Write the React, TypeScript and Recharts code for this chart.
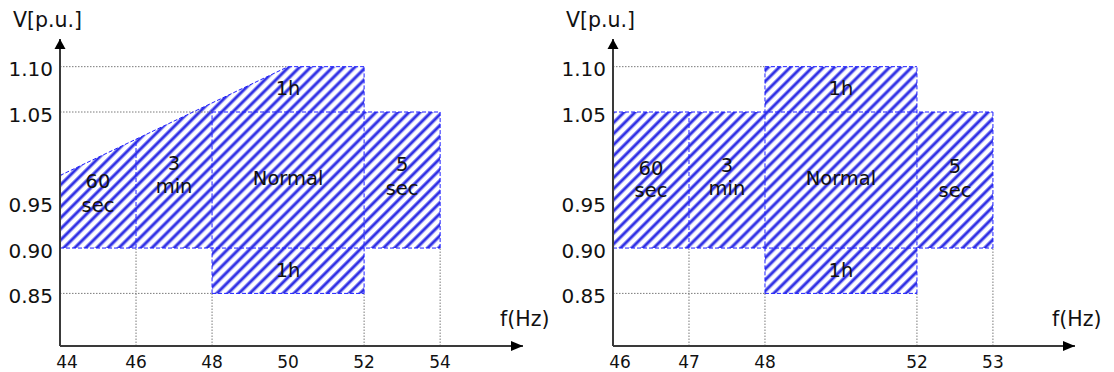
import React from 'react';
import { ComposedChart, Area, XAxis, YAxis, ReferenceLine, ReferenceDot } from 'recharts';

const FONT = '"DejaVu Sans", "Liberation Sans", sans-serif';

// Shared voltage axis
const V_DOMAIN: [number, number] = [0.792, 1.1305];
const vTicks = [0.85, 0.9, 0.95, 1.05, 1.1];

type Region = { name: string; f: number[]; lo: number[]; hi: number[] };
type Seg = [number, number, number, number]; // f1, v1, f2, v2
type Lbl = { f: number; v: number; t: string };

// ---------- Left chart (linear frequency axis) ----------
const leftTicks = [44, 46, 48, 50, 52, 54];
const leftFMax = 56.18;
const leftRegions: Region[] = [
  { name: 'sec60', f: [44, 46], lo: [0.9, 0.9], hi: [0.98, 1.02] },
  { name: 'min3', f: [46, 48], lo: [0.9, 0.9], hi: [1.02, 1.06] },
  { name: 'normal', f: [48, 52], lo: [0.9, 0.9], hi: [1.05, 1.05] },
  { name: 'h1top', f: [48, 50, 52], lo: [1.05, 1.05, 1.05], hi: [1.06, 1.1, 1.1] },
  { name: 'h1bot', f: [48, 52], lo: [0.85, 0.85], hi: [0.9, 0.9] },
  { name: 'sec5', f: [52, 54], lo: [0.9, 0.9], hi: [1.05, 1.05] },
];
const leftBorders: Seg[] = [
  [44, 0.98, 50, 1.1],
  [50, 1.1, 52, 1.1],
  [52, 0.85, 52, 1.1],
  [48, 1.05, 54, 1.05],
  [54, 0.9, 54, 1.05],
  [44, 0.9, 54, 0.9],
  [46, 0.9, 46, 1.02],
  [48, 0.85, 48, 1.05],
  [48, 0.85, 52, 0.85],
];
const leftGrid: Seg[] = [
  [44, 1.1, 50, 1.1],
  [44, 1.05, 48, 1.05],
  [44, 0.85, 48, 0.85],
  [46, V_DOMAIN[0], 46, 0.9],
  [48, V_DOMAIN[0], 48, 0.85],
  [52, V_DOMAIN[0], 52, 0.85],
  [54, V_DOMAIN[0], 54, 0.9],
];
const leftLabels: Lbl[] = [
  { f: 45, v: 0.966, t: '60' },
  { f: 45, v: 0.94, t: 'sec' },
  { f: 47, v: 0.986, t: '3' },
  { f: 47, v: 0.961, t: 'min' },
  { f: 50, v: 0.969, t: 'Normal' },
  { f: 50, v: 1.069, t: '1h' },
  { f: 50, v: 0.868, t: '1h' },
  { f: 53, v: 0.985, t: '5' },
  { f: 53, v: 0.959, t: 'sec' },
];

// ---------- Right chart (non-uniform frequency axis) ----------
const rightTicks = [46, 47, 48, 52, 53];
const rightTickSlots = [0, 1, 2, 4, 5];
const rightSlotMax = 6.08;
const rightRegions: Region[] = [
  { name: 'sec60', f: [46, 47], lo: [0.9, 0.9], hi: [1.05, 1.05] },
  { name: 'min3', f: [47, 48], lo: [0.9, 0.9], hi: [1.05, 1.05] },
  { name: 'normal', f: [48, 52], lo: [0.9, 0.9], hi: [1.05, 1.05] },
  { name: 'h1top', f: [48, 52], lo: [1.05, 1.05], hi: [1.1, 1.1] },
  { name: 'h1bot', f: [48, 52], lo: [0.85, 0.85], hi: [0.9, 0.9] },
  { name: 'sec5', f: [52, 53], lo: [0.9, 0.9], hi: [1.05, 1.05] },
];
const rightBorders: Seg[] = [
  [46, 1.05, 53, 1.05],
  [46, 0.9, 53, 0.9],
  [48, 1.1, 52, 1.1],
  [48, 0.85, 52, 0.85],
  [47, 0.9, 47, 1.05],
  [48, 0.85, 48, 1.1],
  [52, 0.85, 52, 1.1],
  [53, 0.9, 53, 1.05],
];
const rightGrid: Seg[] = [
  [46, 1.1, 48, 1.1],
  [46, 0.85, 48, 0.85],
  [47, V_DOMAIN[0], 47, 0.9],
  [48, V_DOMAIN[0], 48, 0.85],
  [52, V_DOMAIN[0], 52, 0.85],
  [53, V_DOMAIN[0], 53, 0.9],
];
const rightLabels: Lbl[] = [
  { f: 46.5, v: 0.981, t: '60' },
  { f: 46.5, v: 0.956, t: 'sec' },
  { f: 47.5, v: 0.984, t: '3' },
  { f: 47.5, v: 0.958, t: 'min' },
  { f: 50, v: 0.969, t: 'Normal' },
  { f: 50, v: 1.069, t: '1h' },
  { f: 50, v: 0.868, t: '1h' },
  { f: 52.5, v: 0.983, t: '5' },
  { f: 52.5, v: 0.956, t: 'sec' },
];

const identity = (f: number) => f;
const rightToX = (f: number) => {
  for (let i = 0; i < rightTicks.length - 1; i++) {
    const a = rightTicks[i], b = rightTicks[i + 1];
    if (f >= a && f <= b) {
      const sa = rightTickSlots[i], sb = rightTickSlots[i + 1];
      return sa + ((f - a) / (b - a)) * (sb - sa);
    }
  }
  return f < rightTicks[0] ? rightTickSlots[0] : rightTickSlots[rightTickSlots.length - 1];
};

function buildTable(regions: Region[], toX: (f: number) => number) {
  const rows = new Map<number, any>();
  regions.forEach((r) =>
    r.f.forEach((f, i) => {
      const x = toX(f);
      if (!rows.has(x)) rows.set(x, { x });
      rows.get(x)[r.name] = [r.lo[i], r.hi[i]];
    })
  );
  return Array.from(rows.values()).sort((a, b) => a.x - b.x);
}

const AXIS_COLOR = '#3a3a3a';
const BLUE = '#1f1fff';
const GRID = '#7a7a7a';

type PanelProps = {
  id: string;
  regions: Region[];
  borders: Seg[];
  grid: Seg[];
  labels: Lbl[];
  toX: (f: number) => number;
  xDomain: [number, number];
  xTicks: number[];
  tickText: (v: number) => string;
  yWidth: number;
  marginRight: number;
};

function Panel(p: PanelProps) {
  const data = buildTable(p.regions, p.toX);
  const XTick = (props: any) => {
    const { x, y, payload, index } = props;
    return (
      <text x={x + (index === 0 ? 7 : 0)} y={y} dy="0.71em" textAnchor="middle" fontSize={17} fontFamily={FONT} fill="#111">
        {p.tickText(payload.value)}
      </text>
    );
  };
  const YTick = (props: any) => {
    const { x, y, payload } = props;
    return (
      <text x={x} y={y + 2.5} dy="0.355em" textAnchor="end" fontSize={20} fontFamily={FONT} fill="#111">
        {Number(payload.value).toFixed(2)}
      </text>
    );
  };
  return (
    <ComposedChart width={557} height={372} data={data} margin={{ top: 39, right: p.marginRight, left: 0, bottom: 0 }}>
      <defs>
        <pattern id={p.id} patternUnits="userSpaceOnUse" width={7.8} height={7.8} patternTransform="rotate(45)">
          <rect x={0} y={0} width={7.8} height={7.8} fill="#ffffff" />
          <rect x={0} y={0} width={1} height={7.8} fill="#8c8cf2" />
          <rect x={1} y={0} width={2} height={7.8} fill="#2e2ee4" />
          <rect x={3} y={0} width={1} height={7.8} fill="#8c8cf2" />
        </pattern>
      </defs>
      <XAxis
        dataKey="x"
        type="number"
        domain={p.xDomain}
        ticks={p.xTicks}
        interval={0}
        allowDataOverflow
        tickLine={false}
        tickSize={0}
        tickMargin={10}
        height={26}
        axisLine={{ stroke: AXIS_COLOR, strokeWidth: 2 }}
        tick={XTick}
      />
      <YAxis
        type="number"
        domain={V_DOMAIN}
        ticks={vTicks}
        interval={0}
        allowDataOverflow
        width={p.yWidth}
        tickLine={false}
        tickSize={0}
        tickMargin={7}
        axisLine={{ stroke: AXIS_COLOR, strokeWidth: 2 }}
        tick={YTick}
      />
      {p.regions.map((r) => (
        <Area
          key={r.name}
          dataKey={r.name}
          type="linear"
          stroke="none"
          fill={`url(#${p.id})`}
          fillOpacity={1}
          connectNulls
          isAnimationActive={false}
          dot={false}
          activeDot={false}
        />
      ))}
      {p.grid.map((s, i) => (
        <ReferenceLine
          key={'g' + i}
          segment={[{ x: p.toX(s[0]), y: s[1] }, { x: p.toX(s[2]), y: s[3] }]}
          stroke={GRID}
          strokeWidth={1}
          strokeDasharray="1.5 1.5"
          ifOverflow="visible"
        />
      ))}
      {p.borders.map((s, i) => (
        <ReferenceLine
          key={'b' + i}
          segment={[{ x: p.toX(s[0]), y: s[1] }, { x: p.toX(s[2]), y: s[3] }]}
          stroke={BLUE}
          strokeWidth={1}
          strokeDasharray="4 2"
          ifOverflow="visible"
        />
      ))}
      {p.labels.map((l, i) => (
        <ReferenceDot
          key={'l' + i}
          x={p.toX(l.f)}
          y={l.v}
          r={0}
          ifOverflow="visible"
          shape={(d: any) => (
            <text x={d.cx} y={d.cy} textAnchor="middle" fontSize={19.5} fontFamily={FONT} fill="#111">
              {l.t}
            </text>
          )}
        />
      ))}
      <ReferenceDot
        x={p.xDomain[1]}
        y={V_DOMAIN[0]}
        r={0}
        ifOverflow="visible"
        shape={(d: any) => (
          <g>
            <path d={`M${d.cx},${d.cy} L${d.cx - 12},${d.cy - 5} L${d.cx - 12},${d.cy + 5} Z`} fill="#000" />
            <text x={d.cx - 23} y={d.cy - 20} fontSize={20.5} fontFamily={FONT} fill="#111">
              f(Hz)
            </text>
          </g>
        )}
      />
      <ReferenceDot
        x={p.xDomain[0]}
        y={V_DOMAIN[1]}
        r={0}
        ifOverflow="visible"
        shape={(d: any) => (
          <g>
            <path d={`M${d.cx},${d.cy} L${d.cx - 5.5},${d.cy + 10} L${d.cx + 5.5},${d.cy + 10} Z`} fill="#000" />
            <text x={d.cx - 47} y={d.cy - 12} fontSize={20.5} fontFamily={FONT} fill="#111">
              V[p.u.]
            </text>
          </g>
        )}
      />
    </ComposedChart>
  );
}

export default function App() {
  return (
    <div style={{ position: 'absolute', left: 0, top: 0, width: 1114, height: 372, background: '#fff', overflow: 'hidden' }}>
      <div style={{ position: 'absolute', left: 0, top: 0 }}>
        <Panel
          id="hatchLeft"
          regions={leftRegions}
          borders={leftBorders}
          grid={leftGrid}
          labels={leftLabels}
          toX={identity}
          xDomain={[leftTicks[0], leftFMax]}
          xTicks={leftTicks}
          tickText={(v) => String(v)}
          yWidth={60}
          marginRight={34}
        />
      </div>
      <div style={{ position: 'absolute', left: 557, top: 0 }}>
        <Panel
          id="hatchRight"
          regions={rightRegions}
          borders={rightBorders}
          grid={rightGrid}
          labels={rightLabels}
          toX={rightToX}
          xDomain={[rightTickSlots[0], rightSlotMax]}
          xTicks={rightTickSlots}
          tickText={(v) => {
            const i = rightTickSlots.indexOf(v);
            return i >= 0 ? String(rightTicks[i]) : '';
          }}
          yWidth={56}
          marginRight={39}
        />
      </div>
    </div>
  );
}
